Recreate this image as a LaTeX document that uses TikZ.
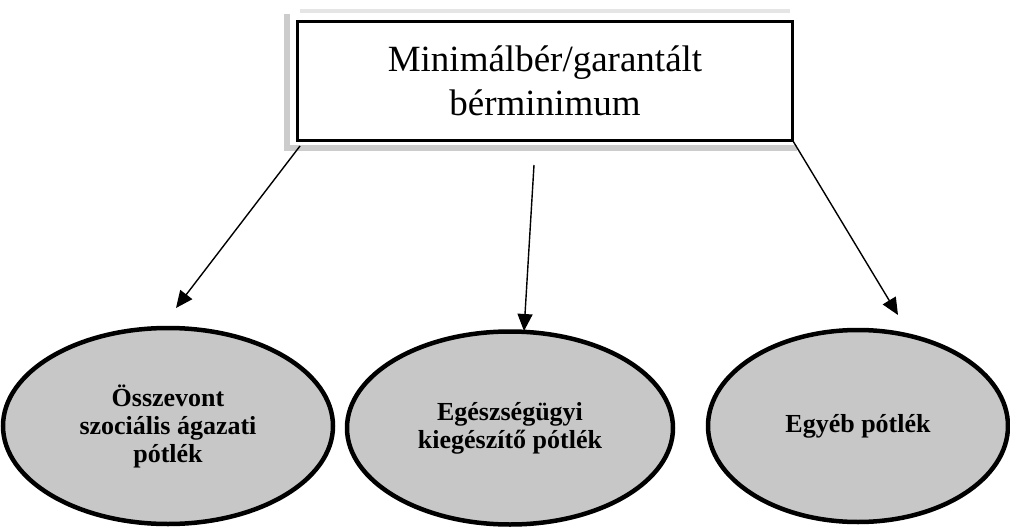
\documentclass[tikz,border=0pt]{standalone}
\usepackage{fontspec}
\setmainfont{Liberation Serif}
\usetikzlibrary{shapes.geometric,arrows.meta}
\tikzset{
  topbox/.style={draw=black, line width=3pt, fill=white, minimum width=495pt, minimum height=118pt, inner sep=0pt, align=center, font=\fontsize{37}{44}\selectfont},
  oval/.style={ellipse, draw=black, line width=4.5pt, fill=black!22, inner sep=0pt, align=center, font=\bfseries\fontsize{26}{28}\selectfont},
  conn/.style={line width=1.4pt, -{Triangle[length=17pt,width=15pt]}},
  halo/.style={black!20, line width=6pt}
}
\begin{document}
\begin{tikzpicture}[x=1pt,y=-1pt]
\useasboundingbox (0,0) rectangle (1010,527);
% grey halo around the title box
\draw[halo] (287,14) -- (287,148) -- (797,148);
\draw[black!10, line width=4pt] (300,11) -- (790,11);
\node[topbox] (top) at (545,81) {Minimálbér/garantált\\bérminimum};
\node[oval, minimum width=330pt, minimum height=196pt] (left) at (168,426) {Összevont\\szociális ágazati\\pótlék};
\node[oval, minimum width=326pt, minimum height=193pt] (mid) at (510,428) {Egészségügyi\\kiegészítő pótlék};
\node[oval, minimum width=300pt, minimum height=192pt] (right) at (858,426) {Egyéb pótlék};
\coordinate (ls) at (300,146);
\coordinate (le) at (176,308);
\coordinate (ms) at (534,165);
\coordinate (me) at (524,331);
\coordinate (rs) at (793,141);
\coordinate (re) at (898,315);
\draw[conn] (ls) -- (le);
\draw[conn] (ms) -- (me);
\draw[conn] (rs) -- (re);
\end{tikzpicture}
\end{document}
